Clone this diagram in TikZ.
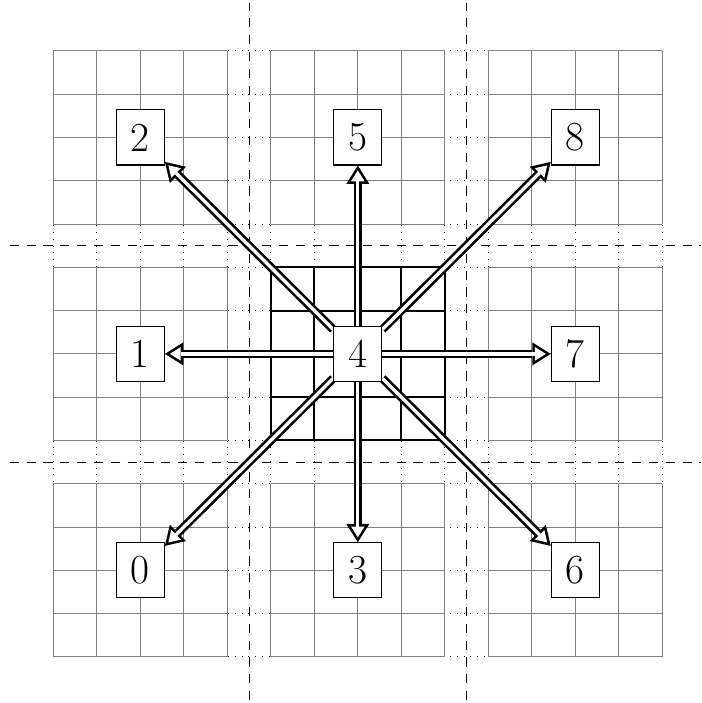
\documentclass[tikz,border=0pt]{standalone}
\usetikzlibrary{arrows.meta}
\begin{document}
\begin{tikzpicture}[x=1cm,y=0.995cm,
  dotgrid/.style={line width=0.6pt,dash pattern=on 0.6pt off 3.8pt},
  graygrid/.style={gray,line width=0.65pt},
  centergrid/.style={black,line width=1.3pt,line cap=rect},
  sep/.style={line width=0.6pt,dash pattern=on 6pt off 5pt},
  arrout/.style={line width=5.6pt,-{Triangle[length=12pt,width=15pt,line width=0pt]}},
  arrin/.style={white,line width=2.2pt,shorten >=3.2pt,-{Triangle[length=7.1pt,width=8.9pt,line width=0pt]}},
  num/.style={draw,fill=white,line width=0.7pt,minimum width=31.5pt,minimum height=36pt,inner sep=0pt,font=\fontsize{27}{32}\selectfont}]
\useasboundingbox (-1.225cm,-1.06cm) rectangle (14.89cm,15.10cm);
% dotted full grid
\foreach \k in {0,...,14}{
  \draw[dotgrid] (\k,0) -- (\k,14);
  \draw[dotgrid] (0,\k) -- (14,\k);
}
% gray blocks
\foreach \i in {0,5,10}{
  \foreach \j in {0,5,10}{
    \fill[white] (\i,\j) rectangle ++(4,4);
    \foreach \k in {0,...,4}{
      \draw[graygrid] (\i+\k,\j) -- ++(0,4);
      \draw[graygrid] (\i,\j+\k) -- ++(4,0);
    }
  }
}
% center block
\fill[white] (5,5) rectangle (9,9);
\foreach \k in {5,...,9}{
  \draw[centergrid] (\k,5) -- (\k,9);
  \draw[centergrid] (5,\k) -- (9,\k);
}
% separators
\draw[sep] (4.5,-1) -- (4.5,15.1);
\draw[sep] (9.5,-1) -- (9.5,15.1);
\draw[sep] (-1,4.5) -- (14.9,4.5);
\draw[sep] (-1,9.5) -- (14.9,9.5);
% nodes
\node[num] (n0) at (2,2) {0};
\node[num] (n1) at (2,7) {1};
\node[num] (n2) at (2,12) {2};
\node[num] (n3) at (7,2) {3};
\node[num] (n5) at (7,12) {5};
\node[num] (n6) at (12,2) {6};
\node[num] (n7) at (12,7) {7};
\node[num] (n8) at (12,12) {8};
\node[num] (n4) at (7,7) {4};
% arrows
\foreach \t in {n0,n1,n2,n3,n5,n6,n7,n8}{
  \draw[arrout] (n4) -- (\t);
  \draw[arrin] (n4) -- (\t);
}
\node[num] at (n4) {4};
\end{tikzpicture}
\end{document}
